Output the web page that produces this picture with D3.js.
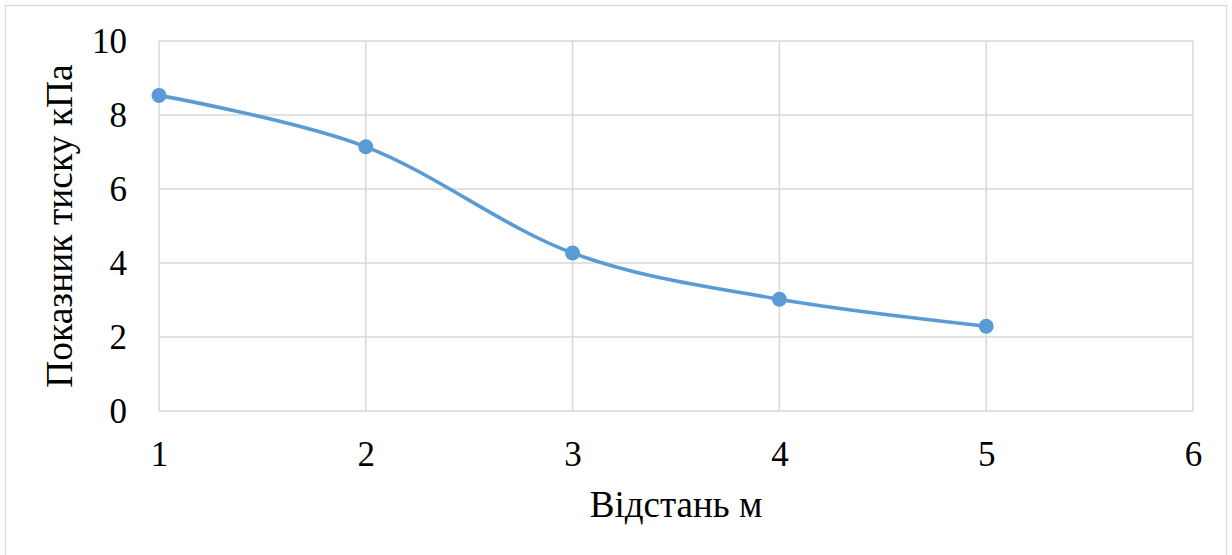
<!DOCTYPE html>
<html>
<head>
<meta charset="utf-8">
<script src="https://cdn.jsdelivr.net/npm/d3@7"></script>
<style>
  html, body { margin: 0; padding: 0; background: #fff; }
  svg { display: block; }
</style>
</head>
<body>
<svg id="chart" width="1232" height="555"></svg>
<script>
// Pressure readings by distance
const distances = [1, 2, 3, 4, 5];
const pressure = [8.53, 7.14, 4.27, 3.02, 2.29];
const xTicks = [1, 2, 3, 4, 5, 6];
const yTicks = [0, 2, 4, 6, 8, 10];
const xTitle = "Відстань м";
const yTitle = "Показник тиску кПа";

const FONT = '"Liberation Serif", Tinos, "Times New Roman", "DejaVu Serif", "Noto Serif", serif';
const svg = d3.select("#chart");
const plot = { left: 159, right: 1193, top: 41, bottom: 411 };

// Chart frame
svg.append("rect")
  .attr("x", 5.5).attr("y", 5.5)
  .attr("width", 1221).attr("height", 560)
  .attr("fill", "#fff").attr("stroke", "#d9d9d9").attr("stroke-width", 1.3);

const x = d3.scaleLinear().domain([1, 6]).range([plot.left, plot.right]);
const y = d3.scaleLinear().domain([0, 10]).range([plot.bottom, plot.top]);

// Gridlines
const grid = svg.append("g").attr("stroke", "#d9d9d9").attr("stroke-width", 1.5);
grid.selectAll("line.h").data(yTicks).join("line")
  .attr("x1", plot.left).attr("x2", plot.right)
  .attr("y1", d => y(d)).attr("y2", d => y(d));
grid.selectAll("line.v").data(xTicks).join("line")
  .attr("y1", plot.top).attr("y2", plot.bottom)
  .attr("x1", d => x(d)).attr("x2", d => x(d));

// Axes (labels only)
const xAxis = svg.append("g")
  .attr("transform", `translate(0,${plot.bottom})`)
  .call(d3.axisBottom(x).tickValues(xTicks).tickSize(0).tickPadding(30).tickFormat(d3.format("d")));
const yAxis = svg.append("g")
  .attr("transform", `translate(${plot.left},0)`)
  .call(d3.axisLeft(y).tickValues(yTicks).tickSize(0).tickPadding(32).tickFormat(d3.format("d")));
[xAxis, yAxis].forEach(a => {
  a.select(".domain").remove();
  a.attr("font-family", FONT).attr("font-size", 35);
  a.selectAll("text").attr("fill", "#000");
});

// Axis titles
svg.append("text")
  .attr("x", (plot.left + plot.right) / 2).attr("y", 517)
  .attr("text-anchor", "middle")
  .attr("font-family", FONT).attr("font-size", 37).attr("fill", "#000")
  .text(xTitle);
svg.append("text")
  .attr("transform", `translate(72,${(plot.top + plot.bottom) / 2}) rotate(-90)`)
  .attr("text-anchor", "middle")
  .attr("font-family", FONT).attr("font-size", 37.5).attr("fill", "#000")
  .text(yTitle);

// Smoothed series line
const pts = distances.map((d, i) => [d, pressure[i]]);
const line = d3.line().x(d => x(d[0])).y(d => y(d[1])).curve(d3.curveCardinal.tension(0));
svg.append("path").datum(pts)
  .attr("d", line).attr("fill", "none")
  .attr("stroke", "#5B9BD5").attr("stroke-width", 3.6)
  .attr("stroke-linejoin", "round").attr("stroke-linecap", "round");

// Markers
svg.selectAll("circle.pt").data(pts).join("circle")
  .attr("cx", d => x(d[0])).attr("cy", d => y(d[1]))
  .attr("r", 7.5).attr("fill", "#5B9BD5");
</script>
</body>
</html>
